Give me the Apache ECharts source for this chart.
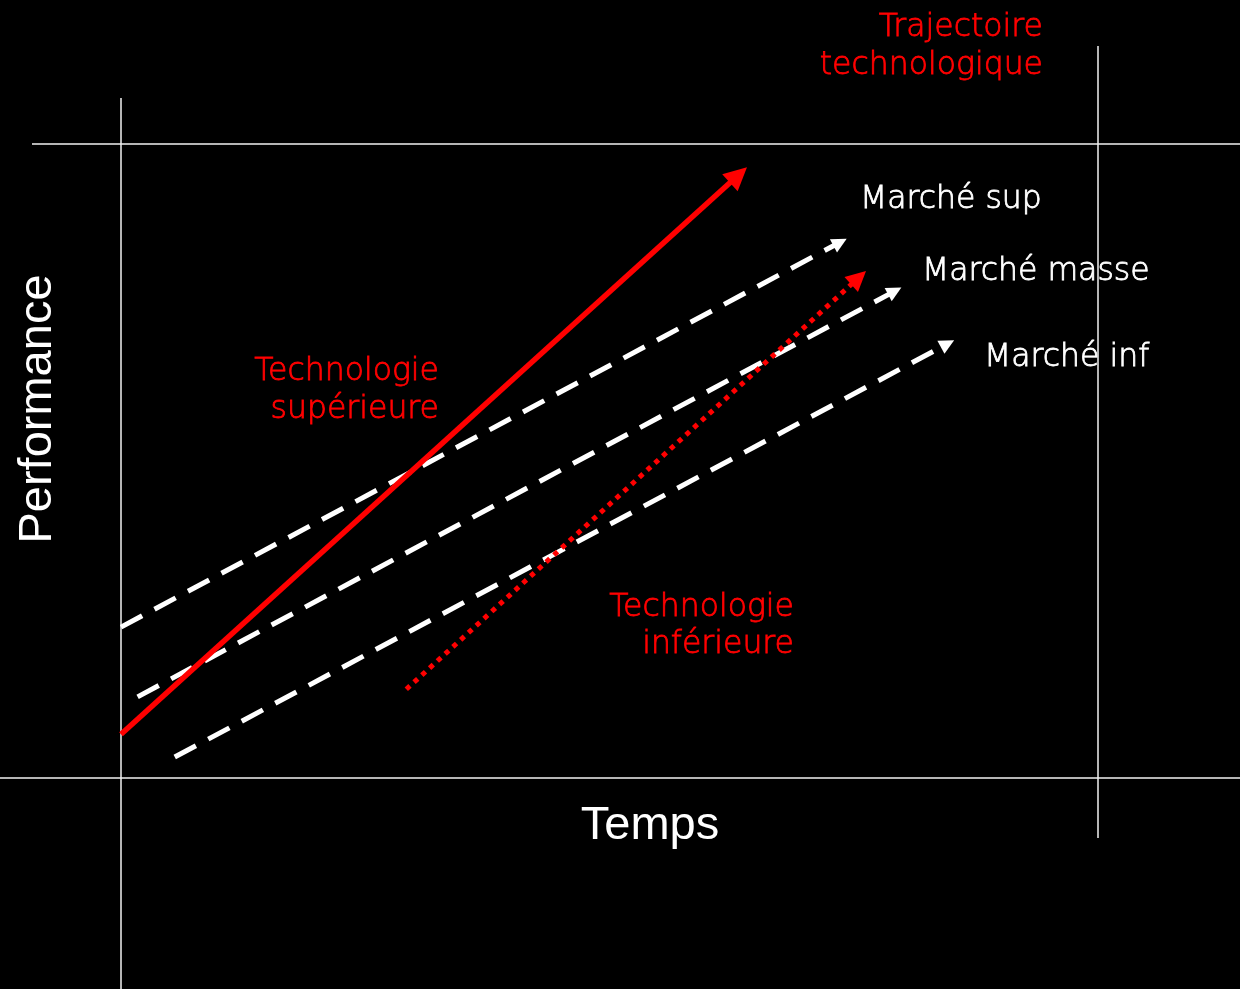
<!DOCTYPE html>
<html>
<head>
<meta charset="utf-8">
<script src="https://cdn.jsdelivr.net/npm/echarts@6/dist/echarts.min.js"></script>
<style>
  html, body { margin: 0; padding: 0; background: #000; }
  #chart { width: 1240px; height: 989px; }
</style>
</head>
<body>
<div id="chart"></div>
<script>
// Performance (0-100) against time (0-100): market demand trajectories
// and the improvement paths of two technologies.
const marketNames = ['Marché sup', 'Marché masse', 'Marché inf'];
const marketStart = [[0, 23.8], [1.7, 12.8], [5.5, 3.3]];
const marketEnd = [[73.6, 84.5], [79.2, 76.8], [84.6, 68.5]];

const techSupName = ['Technologie', 'supérieure'];
const techSupPath = [[0, 6.9], [63.2, 95.1]];

const techInfName = ['Technologie', 'inférieure'];
const techInfPath = [[29.2, 14.0], [75.5, 78.9]];

const trajectoryTitle = ['Trajectoire', 'technologique'];
const axisNames = { x: 'Temps', y: 'Performance' };

const RED = '#ff0000';
const WHITE = '#ffffff';
const LABEL_FONT = '"DejaVu Sans", sans-serif';
const AXIS_FONT = '"Liberation Sans", Arial, sans-serif';

const chart = echarts.init(document.getElementById('chart'), null, { renderer: 'canvas' });

// lines series: symbolSize pairs are [start, end]
const marketSeries = marketNames.map((name, i) => ({
  type: 'lines',
  name: name,
  coordinateSystem: 'cartesian2d',
  symbol: ['none', 'triangle'],
  symbolSize: [0, 15],
  lineStyle: { color: WHITE, width: 5, type: [24, 14], cap: 'butt', opacity: 1 },
  data: [{ coords: [marketStart[i], marketEnd[i]] }],
  z: 3
}));

function frameLine(x1, y1, x2, y2) {
  return {
    type: 'line',
    shape: { x1, y1, x2, y2 },
    style: { stroke: '#f2f2f2', lineWidth: 1.5 },
    z: 1
  };
}

// thin geometric-looking annotation text
function label(text, x, y, color, align) {
  return {
    type: 'text',
    x, y,
    style: {
      text, fill: color,
      stroke: color, lineWidth: 0.8,
      font: '200 31.5px ' + LABEL_FONT,
      align: align || 'left', verticalAlign: 'middle'
    },
    z: 10
  };
}

chart.setOption({
  backgroundColor: '#000000',
  animation: false,
  grid: { left: 121, top: 144, width: 977, height: 634 },
  xAxis: { type: 'value', min: 0, max: 100, show: false },
  yAxis: { type: 'value', min: 0, max: 100, show: false },
  series: [
    ...marketSeries,
    {
      type: 'lines',
      name: techInfName.join(' '),
      coordinateSystem: 'cartesian2d',
      symbol: ['none', 'triangle'],
      symbolSize: [0, 20],
      lineStyle: { color: RED, width: 5, type: [5, 5.5], cap: 'butt', opacity: 1 },
      data: [{ coords: techInfPath }],
      z: 4
    },
    {
      type: 'lines',
      name: techSupName.join(' '),
      coordinateSystem: 'cartesian2d',
      symbol: ['none', 'triangle'],
      symbolSize: [0, 23],
      lineStyle: { color: RED, width: 5.5, type: 'solid', opacity: 1 },
      data: [{ coords: techSupPath }],
      z: 5
    }
  ],
  graphic: [
    // frame
    frameLine(32, 144, 1240, 144),
    frameLine(0, 778, 1240, 778),
    frameLine(121, 98, 121, 989),
    frameLine(1098, 46, 1098, 838),
    // titles and annotations
    label(trajectoryTitle[0], 1043, 28, RED, 'right'),
    label(trajectoryTitle[1], 1043, 66, RED, 'right'),
    label(marketNames[0], 860, 200, WHITE, 'left'),
    label(marketNames[1], 922, 272, WHITE, 'left'),
    label(marketNames[2], 984, 358, WHITE, 'left'),
    label(techSupName[0], 439, 372, RED, 'right'),
    label(techSupName[1], 439, 410, RED, 'right'),
    label(techInfName[0], 794, 608, RED, 'right'),
    label(techInfName[1], 794, 645, RED, 'right'),
    {
      type: 'text',
      x: 650, y: 826,
      style: {
        text: axisNames.x, fill: WHITE, font: '47px ' + AXIS_FONT,
        align: 'center', verticalAlign: 'middle'
      },
      z: 10
    },
    {
      type: 'text',
      x: 38, y: 409,
      rotation: Math.PI / 2,
      style: {
        text: axisNames.y, fill: WHITE, font: '47px ' + AXIS_FONT,
        align: 'center', verticalAlign: 'middle'
      },
      z: 10
    }
  ]
});
</script>
</body>
</html>
